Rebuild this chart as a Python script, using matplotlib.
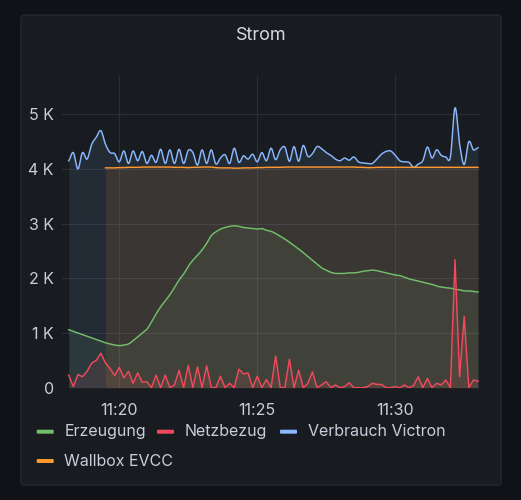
import numpy as np
import pandas as pd
import matplotlib
matplotlib.use("Agg")
import matplotlib.pyplot as plt
import matplotlib.dates as mdates
from matplotlib.patches import FancyBboxPatch
from matplotlib.ticker import FuncFormatter

plt.rcParams["font.family"] = ["Inter", "DejaVu Sans"]

# samples every 10 s, 11:18:10 .. 11:33:00
times = pd.date_range("2023-05-01 11:18:10", periods=90, freq="10s")

erzeugung = [1060, 1030, 1000, 970, 940, 910, 880, 850, 820, 800,
             780, 770, 780, 800, 860, 930, 1000, 1070, 1200, 1350,
             1480, 1590, 1700, 1830, 1970, 2080, 2220, 2330, 2420, 2520,
             2640, 2780, 2850, 2900, 2930, 2950, 2960, 2950, 2930, 2920,
             2910, 2900, 2910, 2880, 2860, 2820, 2770, 2720, 2660, 2600,
             2540, 2470, 2400, 2330, 2260, 2190, 2150, 2110, 2090, 2090,
             2090, 2100, 2100, 2110, 2130, 2140, 2150, 2140, 2120, 2100,
             2080, 2060, 2050, 2020, 1990, 1970, 1950, 1930, 1910, 1890,
             1860, 1840, 1830, 1820, 1800, 1790, 1770, 1770, 1760, 1750]

netzbezug = [230, 20, 240, 200, 300, 450, 500, 630, 450, 350,
             220, 370, 180, 300, 80, 270, 100, 110, 0, 230,
             0, 230, 0, 50, 320, 0, 410, 0, 380, 0,
             400, 0, 0, 210, 0, 80, 0, 340, 250, 270,
             0, 210, 0, 150, 0, 580, 0, 0, 520, 0,
             320, 0, 80, 290, 0, 50, 110, 0, 50, 0,
             20, 90, 0, 0, 0, 20, 80, 60, 60, 0,
             0, 20, 0, 50, 0, 40, 200, 0, 170, 0,
             80, 50, 140, 0, 2340, 200, 1300, 0, 140, 120]

verbrauch = [4150, 4300, 4000, 4300, 4180, 4450, 4580, 4700, 4450, 4300,
             4280, 4130, 4330, 4100, 4330, 4150, 4320, 4100, 4250, 4120,
             4360, 4100, 4350, 4100, 4360, 4100, 4340, 4300, 4070, 4350,
             4100, 4350, 4090, 4200, 4260, 4100, 4380, 4120, 4240, 4180,
             4270, 4130, 4300, 4150, 4380, 4170, 4350, 4400, 4140, 4410,
             4140, 4430, 4230, 4280, 4410, 4370, 4300, 4250, 4180, 4150,
             4200, 4160, 4220, 4130, 4110, 4100, 4100, 4180, 4270, 4320,
             4330, 4250, 4150, 4130, 4120, 4030, 4090, 4150, 4400, 4200,
             4350, 4250, 4220, 4220, 5120, 4450, 4080, 4500, 4350, 4390]

# wallbox starts reporting at 11:19:30
wallbox = [np.nan] * 8 + [
    4020, 4020, 4020, 4025, 4025, 4030, 4030, 4030, 4035, 4035,
    4035, 4035, 4035, 4035, 4035, 4030, 4030, 4030, 4025, 4030,
    4030, 4035, 4035, 4035, 4025, 4020, 4020, 4020, 4015, 4015,
    4020, 4020, 4020, 4025, 4025, 4030, 4030, 4030, 4030, 4035,
    4035, 4035, 4035, 4035, 4035, 4035, 4035, 4035, 4035, 4035,
    4035, 4035, 4035, 4035, 4035, 4030, 4030, 4025, 4025, 4030,
    4030, 4030, 4030, 4030, 4030, 4030, 4030, 4030, 4030, 4030,
    4030, 4030, 4030, 4030, 4030, 4030, 4030, 4030, 4030, 4030,
    4030, 4030]

# (name, values, colour, smooth line like grafana's "smooth" interpolation)
series = [("Erzeugung", erzeugung, "#73BF69", True),
          ("Netzbezug", netzbezug, "#F2495C", False),
          ("Verbrauch Victron", verbrauch, "#8AB8FF", True),
          ("Wallbox EVCC", wallbox, "#FF9830", False)]


def catmull_rom(x, y, n=8):
    # draw-time smoothing through the sampled points
    xs, ys = [], []
    yp = np.concatenate([[y[0]], y, [y[-1]]])
    for i in range(len(y) - 1):
        p0, p1, p2, p3 = yp[i], yp[i + 1], yp[i + 2], yp[i + 3]
        t = np.linspace(0, 1, n, endpoint=False)
        seg = 0.5 * (2 * p1 + (-p0 + p2) * t + (2 * p0 - 5 * p1 + 4 * p2 - p3) * t ** 2
                     + (-p0 + 3 * p1 - 3 * p2 + p3) * t ** 3)
        xs.append(x[i] + (x[i + 1] - x[i]) * t)
        ys.append(seg)
    xs.append([x[-1]])
    ys.append([y[-1]])
    return np.concatenate(xs), np.concatenate(ys)


W, H = 521, 500
fig = plt.figure(figsize=(W / 100, H / 100), dpi=100, facecolor="#111217")

# grafana panel (behind the axes)
panel = FancyBboxPatch((21 / W, 15 / H), 480 / W, 470 / H,
                       boxstyle="round,pad=0,rounding_size=0.006",
                       transform=fig.transFigure, facecolor="#181b1f",
                       edgecolor="#25282d", linewidth=1, zorder=-5)
fig.patches.append(panel)
fig.text(261 / W, 1 - 35 / H, "Strom", ha="center", va="center",
         color="#d8d9e0", fontsize=13)

ax_l, ax_r, ax_t, ax_b = 62, 480, 76, 387.7
ax = fig.add_axes([ax_l / W, 1 - ax_b / H, (ax_r - ax_l) / W, (ax_b - ax_t) / H])
ax.set_facecolor("none")
ax.set_zorder(2)

tnum = mdates.date2num(times.to_pydatetime())
for name, vals, col, smooth in series:
    v = np.array(vals, dtype=float)
    ok = ~np.isnan(v)
    x, y = tnum[ok], v[ok]
    if smooth:
        x, y = catmull_rom(x, y)
    ax.fill_between(x, y, 0, color=col, alpha=0.1, linewidth=0)
    ax.plot(x, y, color=col, linewidth=1.05)

# x range: pad a bit outside the data like grafana's gridlines
px = 10 / 4.6 / 86400
ax.set_xlim(tnum[0] - 6.7 * px, tnum[-1] + 2 * px)
ax.set_ylim(0, 5700)

ax.xaxis.set_major_locator(mdates.MinuteLocator(byminute=[20, 25, 30]))
ax.xaxis.set_major_formatter(mdates.DateFormatter("%H:%M"))
ax.set_yticks([0, 1000, 2000, 3000, 4000, 5000])
ax.yaxis.set_major_formatter(FuncFormatter(lambda v, p: "0" if v == 0 else f"{v / 1000:.0f} K"))

ax.grid(True, color="#2b2e34", linewidth=0.8)
ax.set_axisbelow(True)
for s in ax.spines.values():
    s.set_visible(False)
ax.tick_params(axis="both", length=0, colors="#ccccdc", labelsize=11.5)
ax.tick_params(axis="x", pad=11)
ax.tick_params(axis="y", pad=6)

# legend
legend_pos = [(36.7, 431.7), (157, 431.7), (280, 431.7), (36.7, 461)]
for (name, vals, col, smooth), (lx, ly) in zip(series, legend_pos):
    bar = FancyBboxPatch((lx / W, 1 - (ly + 2) / H), 17 / W, 4 / H,
                         boxstyle="round,pad=0,rounding_size=0.002",
                         transform=fig.transFigure, facecolor=col,
                         edgecolor="none")
    fig.patches.append(bar)
    fig.text((lx + 27.5) / W, 1 - ly / H, name, ha="left", va="center",
             color="#ccccdc", fontsize=11.5)

fig.savefig("out.png", dpi=100, facecolor=fig.get_facecolor())
